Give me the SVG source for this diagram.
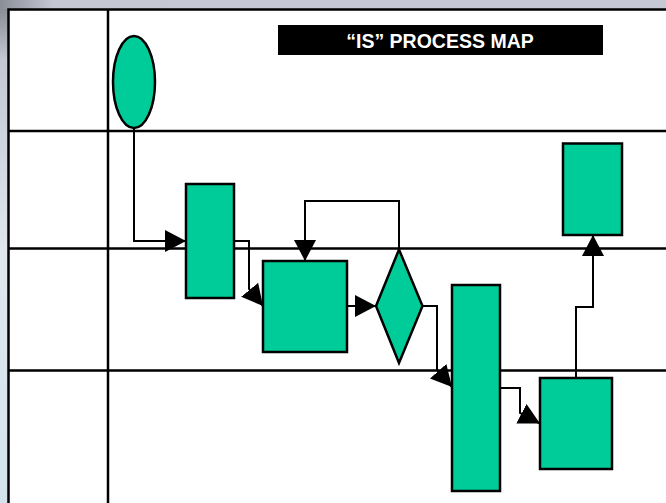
<svg xmlns="http://www.w3.org/2000/svg" width="666" height="503" viewBox="0 0 666 503">
  <defs>
    <linearGradient id="sideShade" x1="0" y1="0" x2="0" y2="1">
      <stop offset="0" stop-color="#7f838b"/>
      <stop offset="0.12" stop-color="#c3c8d2"/>
      <stop offset="0.5" stop-color="#dfe6ee"/>
      <stop offset="1" stop-color="#d3e3ec"/>
    </linearGradient>
    <linearGradient id="topShade" x1="0" y1="0" x2="1" y2="0">
      <stop offset="0" stop-color="#8a8e96"/>
      <stop offset="0.08" stop-color="#c5c7d3"/>
      <stop offset="1" stop-color="#c6c8d4"/>
    </linearGradient>
    <marker id="arrow" markerUnits="userSpaceOnUse" markerWidth="21" markerHeight="22" viewBox="0 0 21 22" refX="21" refY="11" orient="auto">
      <path d="M0,0 L21,11 L0,22 z" fill="#000"/>
    </marker>
    <style>
      .frame { stroke: #000; stroke-width: 2.5; fill: none; }
      .lane { stroke: #000; stroke-width: 2.5; fill: none; }
      .shape { fill: #00cc99; stroke: #000; stroke-width: 2.5; }
      .link { fill: none; stroke: #000; stroke-width: 2; marker-end: url(#arrow); }
      .title { font-family: "Liberation Sans", Arial, sans-serif; font-weight: bold; font-size: 19.5px; fill: #fff; }
    </style>
  </defs>

  <!-- backdrop around the chart sheet -->
  <rect x="0" y="0" width="666" height="503" fill="url(#sideShade)"/>
  <rect x="0" y="0" width="666" height="9" fill="url(#topShade)"/>
  <rect x="8" y="9" width="658" height="494" fill="#fff"/>

  <!-- sheet border, column divider and swim-lane rules -->
  <g id="grid">
    <path class="frame" d="M8.5,503 V9.5 H666"/>
    <line class="frame" x1="108" y1="9" x2="108" y2="503"/>
    <line class="lane" x1="9" y1="131" x2="666" y2="131"/>
    <line class="lane" x1="9" y1="248.5" x2="666" y2="248.5"/>
    <line class="lane" x1="9" y1="370.5" x2="666" y2="370.5"/>
  </g>

  <g id="title">
    <rect x="278" y="25" width="325" height="30" fill="#000"/>
    <text class="title" x="440" y="47.5" text-anchor="middle">“IS” PROCESS MAP</text>
  </g>

  <g id="connectors">
    <path class="link" d="M134,128 V241 H186"/>
    <path class="link" d="M234,241 H249 V289 L263,306"/>
    <path class="link" d="M399,249 V201 H305 V261"/>
    <path class="link" d="M347,306 H376"/>
    <path class="link" d="M423,306 H437 V370 L452,387"/>
    <path class="link" d="M500,388 H520 V413 L540,423.5"/>
    <path class="link" d="M576,378 V307 H593 V235"/>
  </g>

  <g id="start">
    <ellipse class="shape" cx="134" cy="82" rx="21" ry="46"/>
  </g>
  <g id="step1">
    <rect class="shape" x="186" y="184" width="48" height="114"/>
  </g>
  <g id="step2">
    <rect class="shape" x="263" y="261" width="84" height="91"/>
  </g>
  <g id="decision">
    <polygon class="shape" points="399,249.5 422.5,306 399,363 376,306"/>
  </g>
  <g id="step3">
    <rect class="shape" x="452" y="285" width="48" height="206"/>
  </g>
  <g id="step4">
    <rect class="shape" x="540" y="378" width="72" height="91"/>
  </g>
  <g id="step5">
    <rect class="shape" x="563" y="143.5" width="59" height="91.5"/>
  </g>
</svg>
